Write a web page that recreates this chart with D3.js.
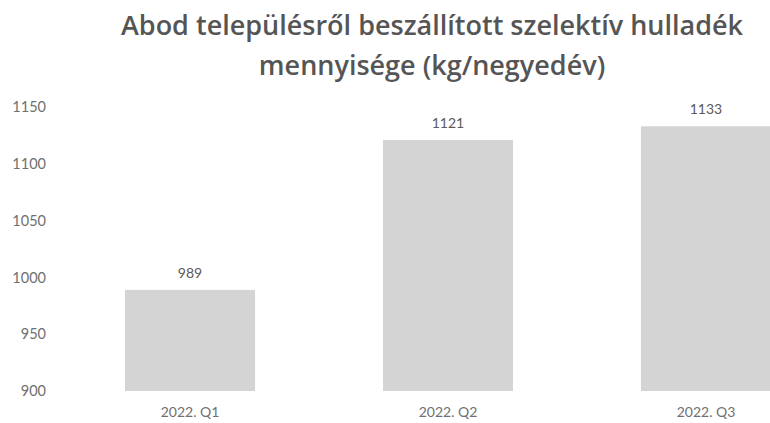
<!DOCTYPE html>
<html>
<head>
<meta charset="utf-8">
<script src="https://cdn.jsdelivr.net/npm/d3@7"></script>
<style>
  body { margin: 0; background: #fff; overflow: hidden; }
  svg { display: block; }
</style>
</head>
<body>
<svg id="chart" width="770" height="423"></svg>
<script>
const quarters = ['2022. Q1', '2022. Q2', '2022. Q3'];
const amounts = [989, 1121, 1133];
const yTicks = [900, 950, 1000, 1050, 1100, 1150];
const titleLines = ['Abod településről beszállított szelektív hulladék', 'mennyisége (kg/negyedév)'];

const svg = d3.select('#chart');
const font = 'Lato, "Open Sans", sans-serif';

// title
svg.append('g').selectAll('text')
    .data(titleLines)
    .enter()
    .append('text')
    .attr('x', 432)
    .attr('y', (d, i) => 35 + i * 40)
    .attr('text-anchor', 'middle')
    .attr('font-family', '"Open Sans", sans-serif')
    .attr('font-weight', 600)
    .attr('font-size', 27)
    .attr('fill', '#555')
    .text(d => d);

const x = d3.scaleBand()
    .domain(quarters)
    .range([60.5, 835.5])
    .paddingInner(0.496)
    .paddingOuter(0.25);

const y = d3.scaleLinear()
    .domain([900, 1150])
    .range([391, 107]);

// y axis, labels only
const yAxis = svg.append('g')
    .attr('transform', 'translate(46,0)')
    .call(d3.axisLeft(y).tickValues(yTicks).tickFormat(d3.format('d')).tickSize(0).tickPadding(0));
yAxis.select('.domain').remove();
yAxis.selectAll('text')
    .attr('font-family', font)
    .attr('font-size', 14.5)
    .attr('fill', '#707070');

// bars
svg.append('g').selectAll('rect')
    .data(amounts)
    .enter()
    .append('rect')
    .attr('x', (d, i) => x(quarters[i]))
    .attr('y', d => y(d))
    .attr('width', x.bandwidth())
    .attr('height', d => y(900) - y(d))
    .attr('fill', '#d4d4d4');

// value labels
svg.append('g').selectAll('text')
    .data(amounts)
    .enter()
    .append('text')
    .attr('x', (d, i) => x(quarters[i]) + x.bandwidth() / 2)
    .attr('y', d => y(d) - 12)
    .attr('text-anchor', 'middle')
    .attr('font-family', font)
    .attr('font-size', 14)
    .attr('fill', '#5a5a5a')
    .text(d => d);

// x axis labels
const xAxis = svg.append('g')
    .attr('transform', 'translate(0,391)')
    .call(d3.axisBottom(x).tickSize(0).tickPadding(16));
xAxis.select('.domain').remove();
xAxis.selectAll('text')
    .attr('font-family', font)
    .attr('font-size', 14)
    .attr('fill', '#707070');
</script>
</body>
</html>
